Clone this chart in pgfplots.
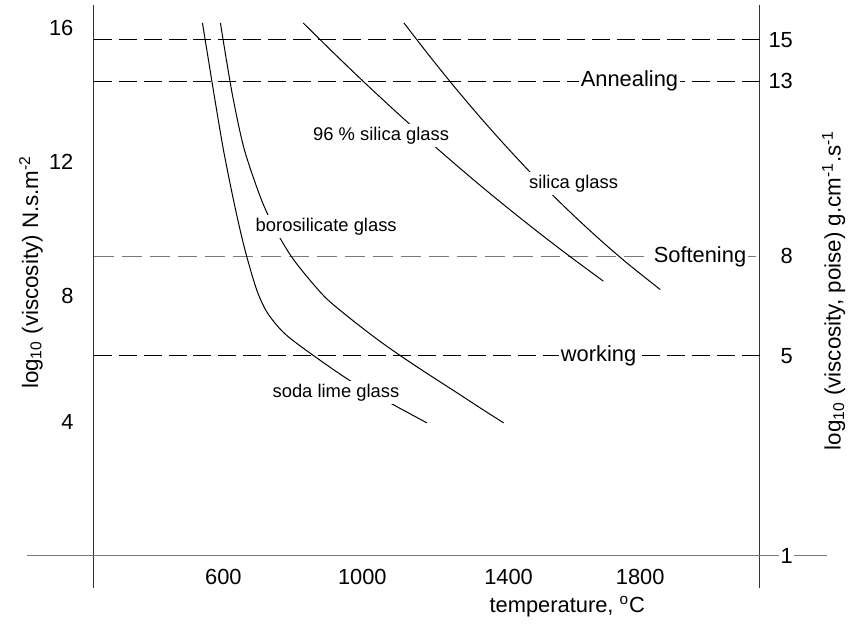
\documentclass[border=0pt]{standalone}
\usepackage{fontspec}
\setmainfont{Liberation Sans}
\usepackage{pgfplots}
\pgfplotsset{compat=1.18}
\definecolor{sgray}{HTML}{7A7A7A}
\begin{document}
\begin{tikzpicture}
\pgfplotsset{
  base/.style={
    scale only axis, width=334bp, height=276bp,
    xmin=226.8, xmax=2144.6, ymin=0.256, ymax=16.684,
    clip=false, axis line style={draw=none}, major tick length=0pt,
    /pgf/number format/assume math mode=true,
    /pgf/number format/set thousands separator={},
    ticklabel style={font=\fontsize{11}{13}\selectfont},
  },
  curve/.style={black, line width=0.5bp, smooth, tension=0.5},
}
\begin{axis}[base,
  xtick={600,1000,1421,1800}, xticklabels={600,1000,1400,1800},
  xticklabel style={anchor=center, yshift=-11bp},
  ytick={4.24,8,12,16}, yticklabels={4,8,12,16},
  yticklabel style={anchor=east, inner sep=0pt, xshift=-10bp},
]
% frame lines
\addplot[black!80, line width=0.55bp] coordinates {(226.8,16.685) (226.8,-0.726)};
\addplot[black!80, line width=0.55bp] coordinates {(2144.6,16.685) (2144.6,-0.726)};
\addplot[sgray, line width=1bp] coordinates {(34.4,0.256) (2337,0.256)};
% reference lines
\addplot[black, line width=0.5bp, dash pattern=on 9bp off 3.5bp] coordinates {(226.8,15.64) (2144.6,15.64)};
\addplot[black, line width=0.5bp, dash pattern=on 9bp off 3.5bp] coordinates {(226.8,14.41) (2144.6,14.41)};
\addplot[sgray, line width=0.8bp, dash pattern=on 10bp off 4bp] coordinates {(226.8,9.18) (2144.6,9.18)};
\addplot[black, line width=0.5bp, dash pattern=on 9bp off 3.5bp] coordinates {(226.8,6.21) (2144.6,6.21)};
% soda lime glass
\addplot[curve] coordinates {
 (539.7,16.149) (556.9,15.048) (575.6,13.857) (600.0,12.369) (628.7,10.881)
 (654.5,9.690) (677.5,8.798) (700.5,8.054) (729.2,7.458) (778.0,6.863)
 (861.3,6.208) (970.4,5.435) (1079.5,4.810) (1185.7,4.214)};
% borosilicate glass
\addplot[curve] coordinates {
 (591.4,16.149) (608.6,15.048) (628.7,13.857) (660.3,12.369) (709.1,10.881)
 (749.3,9.988) (795.2,9.185) (846.9,8.500) (898.6,7.905) (967.5,7.310)
 (1042.1,6.714) (1111.0,6.208) (1188.6,5.673) (1268.9,5.137) (1343.6,4.631) (1406.8,4.214)};
% 96 % silica glass
\addplot[curve] coordinates {
 (829.7,16.149) (918.7,15.240) (1004.8,14.384) (1091.0,13.554) (1177.1,12.750)
 (1263.2,11.970) (1349.3,11.214) (1435.5,10.485) (1521.6,9.780) (1607.7,9.101) (1693.9,8.443)};
% silica glass
\addplot[curve] coordinates {
 (1119.7,16.149) (1191.4,15.188) (1263.2,14.265) (1335.0,13.384) (1406.8,12.545)
 (1478.5,11.744) (1550.3,10.985) (1622.1,10.268) (1693.9,9.589) (1765.6,8.952) (1857.5,8.193)};
% labels
\begin{scope}[every node/.style={fill=white, inner sep=1.5bp, font=\fontsize{9.25}{11}\selectfont}]
\node at (axis cs:1054,12.79) {96 \% silica glass};
\node at (axis cs:896,10.08) {borosilicate glass};
\node at (axis cs:924,5.11) {soda lime glass};
\node at (axis cs:1608,11.36) {silica glass};
\end{scope}
\begin{scope}[every node/.style={fill=white, inner sep=1bp, font=\fontsize{11}{13}\selectfont}]
\node at (axis cs:1769,14.41) {Annealing};
\node at (axis cs:1972,9.18) {Softening};
\node at (axis cs:1680,6.21) {working};
\end{scope}
% titles
\node[font=\fontsize{11}{13}\selectfont] at (axis cs:1590,-1.262) {temperature, \textsuperscript{o}C};
\node[font=\fontsize{11.25}{13}\selectfont, rotate=90] at (axis cs:46,8.71) {log\textsubscript{10} (viscosity) N.s.m\textsuperscript{-2}};
\node[font=\fontsize{11.25}{13}\selectfont, rotate=90] at (axis cs:2357,8.17) {log\textsubscript{10} (viscosity, poise) g.cm\textsuperscript{-1}.s\textsuperscript{-1}};
\draw[draw=none] (axis cs:-43.1,-1.679) rectangle (axis cs:2403,16.833);
\end{axis}
\begin{axis}[base,
  xtick=\empty,
  ytick={0.256,6.21,9.18,14.41,15.64}, yticklabels={1,5,8,13,15},
  yticklabel pos=right,
  yticklabel style={anchor=east, xshift=17.5bp, fill=white, inner sep=0.8bp},
]
\end{axis}
\end{tikzpicture}
\end{document}
